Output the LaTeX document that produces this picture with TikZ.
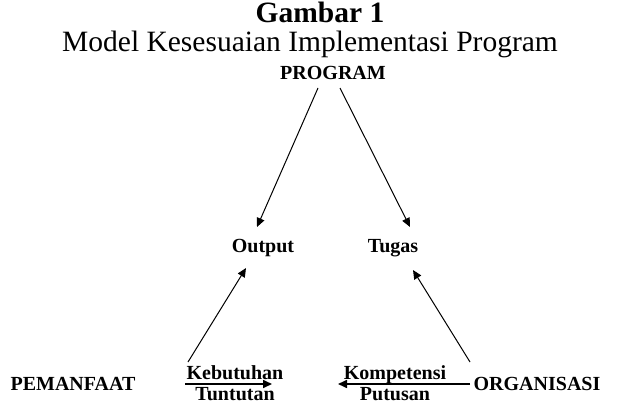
\documentclass[tikz,border=0pt]{standalone}
\usepackage{fontspec}
\setmainfont{Liberation Serif}
\usetikzlibrary{arrows.meta,positioning,calc}

\begin{document}
\begin{tikzpicture}[x=1pt,y=-1pt,line width=1pt,>={Triangle[width=8pt,length=9pt]},
  lbl/.style={font=\fontsize{20}{20}\selectfont\bfseries,inner sep=0pt,anchor=base},
  judul/.style={font=\fontsize{29.5}{30}\selectfont,inner sep=0pt,anchor=base}]
\useasboundingbox (0,0) rectangle (620,403);
% judul
\node[judul,font=\fontsize{29.5}{30}\selectfont\bfseries](gbr) at (320,23){Gambar 1};
\node[judul](sub) at (310,52){Model Kesesuaian Implementasi Program};
% label
\node[lbl](prog) at (333,80){PROGRAM};
\node[lbl](out) at (263,252){Output};
\node[lbl](tgs) at (393,252){Tugas};
\node[lbl](pem) at (73,390){PEMANFAAT};
\node[lbl](org) at (537,390){ORGANISASI};
\node[lbl](keb) at (235,379){Kebutuhan};
\node[lbl](tun) at (235,400){Tuntutan};
\node[lbl](kom) at (395,379){Kompetensi};
\node[lbl](put) at (395,400){Putusan};
% ujung panah
\coordinate (p1) at (318,88);
\coordinate (p2) at (340,88);
\coordinate (o1) at (257,227);
\coordinate (t1) at (410,227);
\coordinate (o2) at (246,268);
\coordinate (t2) at (413,270);
\coordinate (k1) at (188,362);
\coordinate (k2) at (470,362);
\coordinate (h1) at (185,384);
\coordinate (h2) at (272,384);
\coordinate (h3) at (470,384);
\coordinate (h4) at (338,384);
\foreach \a/\b in {p1/o1,p2/t1,k1/o2,k2/t2}
\draw[->](\a)--(\b);
\foreach \a/\b in {h1/h2,h3/h4}
\draw[->,line width=1.6pt](\a)--(\b);
\end{tikzpicture}
\end{document}
